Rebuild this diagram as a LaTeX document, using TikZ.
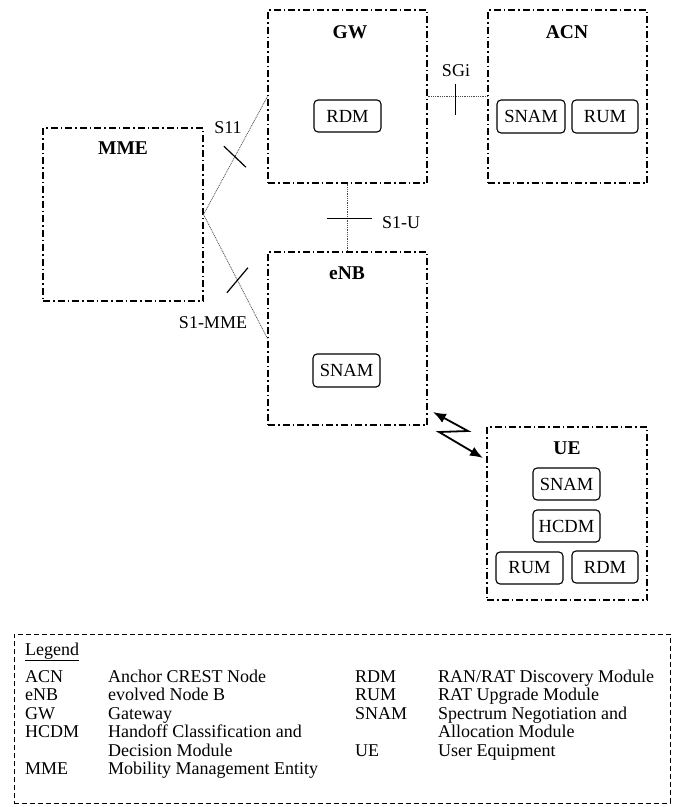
\documentclass[tikz,border=0pt]{standalone}
\usepackage{fontspec}
\setmainfont{Liberation Serif}
\usetikzlibrary{arrows.meta,calc}
\begin{document}
\begin{tikzpicture}[x=1pt,y=-1pt,
  font=\fontsize{18}{18}\selectfont,
  netbox/.style={draw, line width=1.1pt, dash pattern=on 7pt off 3pt on 1.5pt off 3pt, inner sep=0pt},
  module/.style={draw, line width=1.1pt, rounded corners=4pt, inner sep=0pt, font=\fontsize{18.5}{18.5}\selectfont},
  iface/.style={line width=0.7pt, black!70, dash pattern=on 1pt off 0.8pt},
  ticks/.style={line width=1.2pt},
  lbl/.style={inner sep=0pt, anchor=base},
  title/.style={inner sep=0pt, anchor=base, font=\fontsize{19.5}{19.5}\selectfont\bfseries},
  legtext/.style={inner sep=0pt, anchor=base west},
  radio/.style={line width=1.8pt, {Latex[length=13pt,width=10pt]}-{Latex[length=13pt,width=10pt]}}]
\useasboundingbox (0,0) rectangle (675,807);

% network boxes
\node[netbox, minimum width=159pt, minimum height=173pt] (gw)  at (347.5,96.5) {};
\node[netbox, minimum width=159pt, minimum height=173pt] (acn) at (567.5,96.5) {};
\node[netbox, minimum width=160pt, minimum height=173pt] (mme) at (123,214.5) {};
\node[netbox, minimum width=159pt, minimum height=173pt] (enb) at (347.5,338.5) {};
\node[netbox, minimum width=160pt, minimum height=173pt] (ue)  at (567,513.5) {};

% titles
\node[title] (gwt)  at (350,38.5) {GW};
\node[title] (acnt) at (567,38.5) {ACN};
\node[title] (mmet) at (123,154.5) {MME};
\node[title] (enbt) at (347,279.5) {eNB};
\node[title] (uet)  at (567,454.5) {UE};

% modules
\node[module, minimum width=67pt, minimum height=32pt] (gwrdm)   at (347.5,116) {RDM};
\node[module, minimum width=68pt, minimum height=33pt] (acnsnam) at (531,116.5) {SNAM};
\node[module, minimum width=66pt, minimum height=33pt] (acnrum)  at (605,116.5) {RUM};
\node[module, minimum width=67pt, minimum height=33pt] (enbsnam) at (346.5,370.5) {SNAM};
\node[module, minimum width=67pt, minimum height=32pt] (uesnam)  at (566.5,484) {SNAM};
\node[module, minimum width=67pt, minimum height=32pt] (uehcdm)  at (566.5,526) {HCDM};
\node[module, minimum width=67pt, minimum height=32pt] (uerum)   at (529.5,568) {RUM};
\node[module, minimum width=66pt, minimum height=32pt] (uerdm)   at (605,567) {RDM};

% interfaces
\draw[iface] (mme.east) -- (gw.west);
\draw[iface] (mme.east) -- (enb.west);
\draw[iface] (gw.east) -- (acn.west);
\draw[iface] (gw.south) -- (enb.north);

% ticks
\coordinate (t11) at ($(mme.east)!0.49!(gw.west)$);
\draw[ticks] ($(t11)+(-11,-10.5)$) -- ($(t11)+(11,10.5)$);
\coordinate (t1m) at ($(mme.east)!0.53!(enb.west)$);
\draw[ticks] ($(t1m)+(-10.5,12.5)$) -- ($(t1m)+(10.5,-12.5)$);
\coordinate (tsgi) at ($(gw.east)!0.47!(acn.west)$);
\draw[ticks] ($(tsgi)+(0,-13)$) -- ($(tsgi)+(0,18)$);
\coordinate (ts1u) at ($(gw.south)!0.52!(enb.north)$);
\draw[ticks] ($(ts1u)+(-21,0)$) -- ($(ts1u)+(24,0)$);

% interface labels
\node[lbl] (l11)  at (228,133) {S11};
\node[lbl] (l1m)  at (213,328) {S1-MME};
\node[lbl] (lsgi) at (456,76) {SGi};
\node[legtext] (ls1u) at (382,228) {S1-U};

% radio link
\coordinate (r1) at (433,412);
\coordinate (r2) at (468,431);
\coordinate (r3) at (439,432);
\coordinate (r4) at (483,458);
\draw[radio] (r1) -- (r2) -- (r3) -- (r4);

% legend
\node[draw, line width=1pt, dash pattern=on 5pt off 3pt, minimum width=656pt, minimum height=169pt, inner sep=0pt] (legend) at (342,718.5) {};
\node[legtext] (lt) at (25,655) {\underline{Legend}};
\node[legtext] at (25,682) {ACN};
\node[legtext] at (108,682) {Anchor CREST Node};
\node[legtext] at (25,700.5) {eNB};
\node[legtext] at (108,700.5) {evolved Node B};
\node[legtext] at (25,719) {GW};
\node[legtext] at (108,719) {Gateway};
\node[legtext] at (25,737.5) {HCDM};
\node[legtext] at (108,737.5) {Handoff Classification and};
\node[legtext] at (108,756) {Decision Module};
\node[legtext] at (25,774.5) {MME};
\node[legtext] at (108,774.5) {Mobility Management Entity};
\node[legtext] at (355,682) {RDM};
\node[legtext] at (438,682) {RAN/RAT Discovery Module};
\node[legtext] at (355,700.5) {RUM};
\node[legtext] at (438,700.5) {RAT Upgrade Module};
\node[legtext] at (355,719) {SNAM};
\node[legtext] at (438,719) {Spectrum Negotiation and};
\node[legtext] at (438,737.5) {Allocation Module};
\node[legtext] at (355,756) {UE};
\node[legtext] at (438,756) {User Equipment};
\end{tikzpicture}
\end{document}
